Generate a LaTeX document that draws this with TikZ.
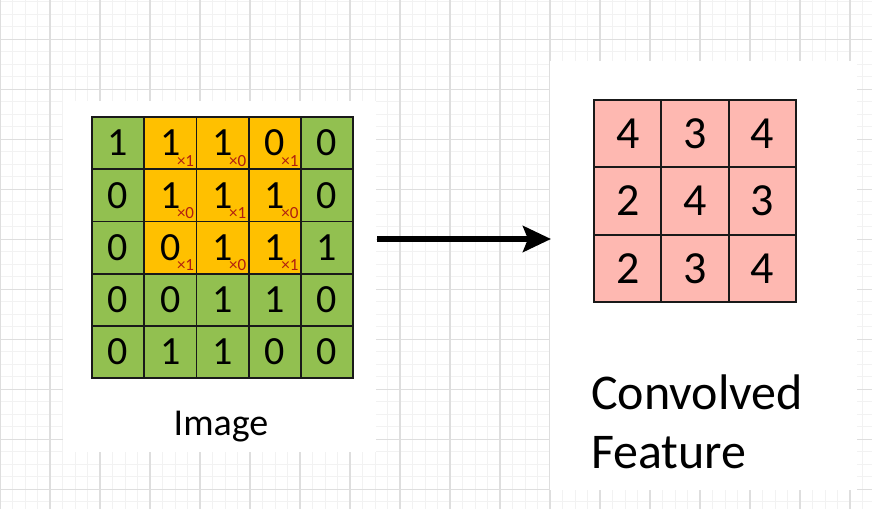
\documentclass[tikz,border=0pt]{standalone}
\usepackage{fontspec}
\setmainfont{Carlito}
\usepackage{tikz}
\usetikzlibrary{arrows.meta}

\definecolor{imggreen}{HTML}{92C050}
\definecolor{kernorange}{HTML}{FFC000}
\definecolor{featpink}{HTML}{FEB8B1}
\definecolor{kernred}{HTML}{B01E10}
\definecolor{gridminor}{HTML}{F2F2F2}
\definecolor{gridmajor}{HTML}{DEDEDE}

\begin{document}
\begin{tikzpicture}[x=1pt, y=-1pt]
    \tikzset{
        cell/.style={draw=black!90, line width=1.8pt, minimum size=52.2pt,
            inner sep=0pt, font=\fontsize{40}{40}\selectfont},
        fcell/.style={cell, minimum size=67.3pt, fill=featpink,
            font=\fontsize{46}{46}\selectfont},
        weight/.style={text=kernred, inner sep=0pt, anchor=south east,
            text height=10pt, text depth=0pt,
            font=\fontsize{17}{17}\selectfont},
        panel/.style={fill=white, draw=none, inner sep=0pt},
        caption/.style={inner sep=0pt, text=black}
    }

    \useasboundingbox (0,0) rectangle (872,509);

    % background grid
    \foreach \x in {0,12.5,...,872}
        \draw[gridminor, line width=1pt] (\x,0) -- (\x,509);
    \foreach \y in {1.8,14.3,...,509}
        \draw[gridminor, line width=1pt] (0,\y) -- (872,\y);
    \foreach \x in {0,50,...,850}
        \draw[gridmajor, line width=1.2pt] (\x,0) -- (\x,509);
    \foreach \y in {39.3,89.3,...,509}
        \draw[gridmajor, line width=1.2pt] (0,\y) -- (872,\y);

    \node[panel, minimum width=313pt, minimum height=351pt] (imgpanel) at (219.5,276.5) {};
    \node[panel, minimum width=307pt, minimum height=429pt] (featpanel) at (703.5,275.5) {};

    % input image, kernel part in orange
    \foreach \vals [count=\r from 0] in {{1,1,1,0,0},{0,1,1,1,0},{0,0,1,1,1},{0,0,1,1,0},{0,1,1,0,0}} {
        \foreach \v [count=\c from 0] in \vals {
            \pgfmathtruncatemacro\inkern{(\r<3)&&(\c>0)&&(\c<4)}
            \ifnum\inkern=1 \def\cellfill{kernorange}\else\def\cellfill{imggreen}\fi
            \node[cell, fill=\cellfill] (img-\r-\c) at (118.1+52.2*\c, 143.1+52.2*\r) {\v};
        }
    }

    \foreach \w [count=\k from 0] in {1,0,1,0,1,0,1,0,1} {
        \pgfmathtruncatemacro\r{div(\k,3)}
        \pgfmathtruncatemacro\c{mod(\k,3)+1}
        \node[weight] (w-\r-\c) at ([xshift=-3pt, yshift=3.5pt]img-\r-\c.south east) {×\w};
    }

    \node[caption, anchor=base, font=\fontsize{38}{38}\selectfont] (imglabel) at (221,435) {Image};

    % convolved feature
    \foreach \vals [count=\r from 0] in {{4,3,4},{2,4,3},{2,3,4}} {
        \foreach \v [count=\c from 0] in \vals {
            \node[fcell] (feat-\r-\c) at (627.7+67.3*\c, 133.7+67.3*\r) {\v};
        }
    }

    \node[caption, anchor=base west, align=left, font=\fontsize{50}{59}\selectfont]
        (featlabel) at (591,468) {Convolved\\Feature};

    \coordinate (arrowstart) at (377,239);
    \coordinate (arrowend) at (551,239);
    \draw[line width=5.5pt, -{Stealth[length=28pt, width=26pt, inset=5pt]}]
        (arrowstart) -- (arrowend);
\end{tikzpicture}
\end{document}
